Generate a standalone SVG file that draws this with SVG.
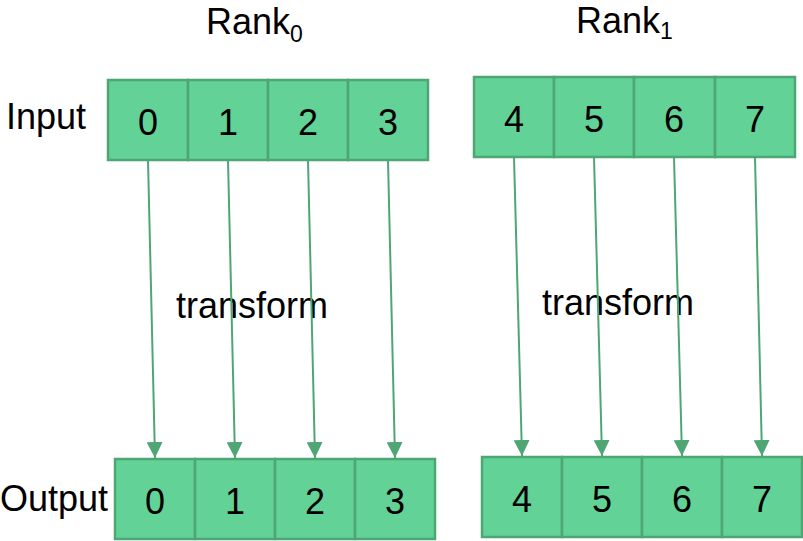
<svg xmlns="http://www.w3.org/2000/svg" width="803" height="541" viewBox="0 0 803 541">
<style>
.cell{fill:#62d296;stroke:#4ea674;stroke-width:2.5}
.t{font-family:"Liberation Sans",Arial,sans-serif;font-size:36px;fill:#000}
.n{text-anchor:middle}
.c{stroke:#4ea674;stroke-width:2;fill:none;marker-end:url(#ah)}
</style>
<defs>
<marker id="ah" markerUnits="userSpaceOnUse" markerWidth="16" markerHeight="16" viewBox="0 0 16 16" refX="16" refY="8" orient="auto">
<path d="M0,0 L16,8 L0,16 Z" fill="#4ea674"/>
</marker>
</defs>
<rect width="803" height="541" fill="#fff"/>
<g id="labels">
<text class="t" x="206" y="34">Rank<tspan font-size="23" dx="0" dy="8">0</tspan></text>
<text class="t" x="576" y="33">Rank<tspan font-size="23" dx="0" dy="6">1</tspan></text>
<text class="t" x="6" y="129">Input</text>
<text class="t" x="108" y="511" text-anchor="end">Output</text>
<text class="t" x="176" y="318">transform</text>
<text class="t" x="542" y="315">transform</text>
</g>
<g id="connectors">
<line class="c" x1="148" y1="160" x2="155" y2="458"/>
<line class="c" x1="228" y1="160" x2="235" y2="458"/>
<line class="c" x1="308" y1="160" x2="315" y2="458"/>
<line class="c" x1="388" y1="160" x2="395" y2="458"/>
<line class="c" x1="514" y1="157" x2="522" y2="456"/>
<line class="c" x1="594" y1="157" x2="602" y2="456"/>
<line class="c" x1="674" y1="157" x2="682" y2="456"/>
<line class="c" x1="755" y1="157" x2="762" y2="456"/>
</g>
<g id="input0">
<rect class="cell" x="108" y="80" width="80" height="80"/>
<rect class="cell" x="188" y="80" width="80" height="80"/>
<rect class="cell" x="268" y="80" width="80" height="80"/>
<rect class="cell" x="348" y="80" width="80" height="80"/>
<text class="t n" x="148" y="135">0</text>
<text class="t n" x="228" y="135">1</text>
<text class="t n" x="308" y="135">2</text>
<text class="t n" x="388" y="135">3</text>
</g>
<g id="input1">
<rect class="cell" x="474" y="77" width="80" height="80"/>
<rect class="cell" x="554" y="77" width="80" height="80"/>
<rect class="cell" x="634" y="77" width="81" height="80"/>
<rect class="cell" x="715" y="77" width="80" height="80"/>
<text class="t n" x="514" y="132">4</text>
<text class="t n" x="594" y="132">5</text>
<text class="t n" x="674" y="132">6</text>
<text class="t n" x="755" y="132">7</text>
</g>
<g id="output0">
<rect class="cell" x="115" y="459" width="80" height="80"/>
<rect class="cell" x="195" y="459" width="80" height="80"/>
<rect class="cell" x="275" y="459" width="80" height="80"/>
<rect class="cell" x="355" y="459" width="80" height="80"/>
<text class="t n" x="155" y="514">0</text>
<text class="t n" x="235" y="514">1</text>
<text class="t n" x="315" y="514">2</text>
<text class="t n" x="395" y="514">3</text>
</g>
<g id="output1">
<rect class="cell" x="482" y="457" width="80" height="80"/>
<rect class="cell" x="562" y="457" width="80" height="80"/>
<rect class="cell" x="642" y="457" width="80" height="80"/>
<rect class="cell" x="722" y="457" width="80" height="80"/>
<text class="t n" x="522" y="512">4</text>
<text class="t n" x="602" y="512">5</text>
<text class="t n" x="682" y="512">6</text>
<text class="t n" x="762" y="512">7</text>
</g>
</svg>
